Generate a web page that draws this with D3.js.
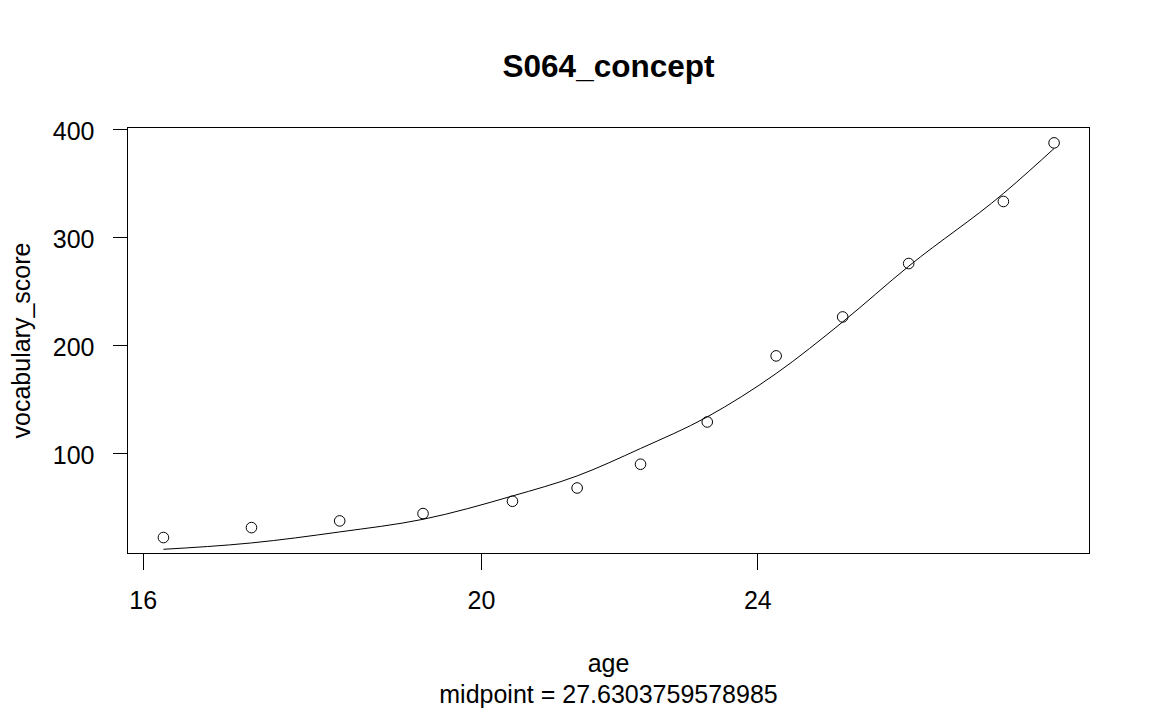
<!DOCTYPE html>
<html>
<head>
<meta charset="utf-8">
<script src="https://cdn.jsdelivr.net/npm/d3@7"></script>
<style>
  html, body { margin: 0; padding: 0; background: #fff; }
  svg { display: block; }
  text { font-family: "Liberation Sans", Arial, sans-serif; fill: #000; }
</style>
</head>
<body>
<svg id="chart" width="1155" height="713"></svg>
<script>
// ---- data ----
const ages = [16.22, 17.19, 18.22, 19.25, 20.42, 21.31, 22.22, 23.22, 24.30, 25.39, 26.52, 28.23, 29.19];
const scores = [21.9, 31.1, 37.3, 44.1, 55.5, 67.8, 89.8, 129.0, 190.2, 226.3, 275.8, 333.3, 387.6];
const fitted = [11.0, 16.9, 27.1, 38.8, 60.4, 79.0, 104.4, 133.7, 173.9, 221.7, 273.3, 340.7, 382.4];
const xTicks = [16, 20, 24];
const yTicks = [100, 200, 300, 400];
const xDomain = [15.84, 29.88];
const yDomain = [7.1, 401.85];
const titleText = "S064_concept";
const xLabel = "age";
const subLabel = "midpoint = 27.6303759578985";
const yLabel = "vocabulary_score";

// ---- layout ----
const W = 1155, H = 713;
const plot = { left: 127.5, right: 1089.5, top: 127.5, bottom: 553.5 };

const svg = d3.select("#chart");
const x = d3.scaleLog().domain(xDomain).range([plot.left, plot.right]);
const y = d3.scaleLinear().domain(yDomain).range([plot.bottom, plot.top]);

// box
svg.append("rect")
  .attr("x", plot.left).attr("y", plot.top)
  .attr("width", plot.right - plot.left).attr("height", plot.bottom - plot.top)
  .attr("fill", "none").attr("stroke", "#000").attr("stroke-width", 1);

// x axis
const xAxis = d3.axisBottom(x).tickValues(xTicks).tickFormat(d3.format("d")).tickSize(16).tickPadding(22).tickSizeOuter(0);
const gx = svg.append("g").attr("transform", `translate(0,${plot.bottom})`).call(xAxis);
gx.select(".domain").remove();
gx.selectAll("line").attr("stroke", "#000").attr("shape-rendering", "crispEdges");
gx.selectAll("text").style("font-size", "25px").attr("fill", "#000");

// y axis
const yAxis = d3.axisLeft(y).tickValues(yTicks).tickFormat(d3.format("d")).tickSize(15).tickPadding(18).tickSizeOuter(0);
const gy = svg.append("g").attr("transform", `translate(${plot.left},0)`).call(yAxis);
gy.select(".domain").remove();
gy.selectAll("line").attr("stroke", "#000").attr("shape-rendering", "crispEdges");
gy.selectAll("text").style("font-size", "25px").attr("fill", "#000").attr("dy", "0.42em");

// fitted line
const line = d3.line().x((d, i) => x(ages[i])).y(d => y(d)).curve(d3.curveMonotoneX);
svg.append("path").datum(fitted)
  .attr("d", line).attr("fill", "none").attr("stroke", "#000").attr("stroke-width", 1);

// points
svg.append("g").selectAll("circle").data(scores).join("circle")
  .attr("cx", (d, i) => x(ages[i])).attr("cy", d => y(d)).attr("r", 5.3)
  .attr("fill", "none").attr("stroke", "#000").attr("stroke-width", 1);

// title & labels
const cx = (plot.left + plot.right) / 2;
svg.append("text").attr("x", cx).attr("y", 76.5).attr("text-anchor", "middle")
  .style("font-size", "31.5px").style("font-weight", "bold").text(titleText);
svg.append("text").attr("x", cx).attr("y", 672).attr("text-anchor", "middle")
  .style("font-size", "25px").text(xLabel);
svg.append("text").attr("x", cx).attr("y", 703).attr("text-anchor", "middle")
  .style("font-size", "25px").text(subLabel);
svg.append("text").attr("transform", `translate(30,${(plot.top + plot.bottom) / 2}) rotate(-90)`)
  .attr("text-anchor", "middle").style("font-size", "25px").text(yLabel);
</script>
</body>
</html>
